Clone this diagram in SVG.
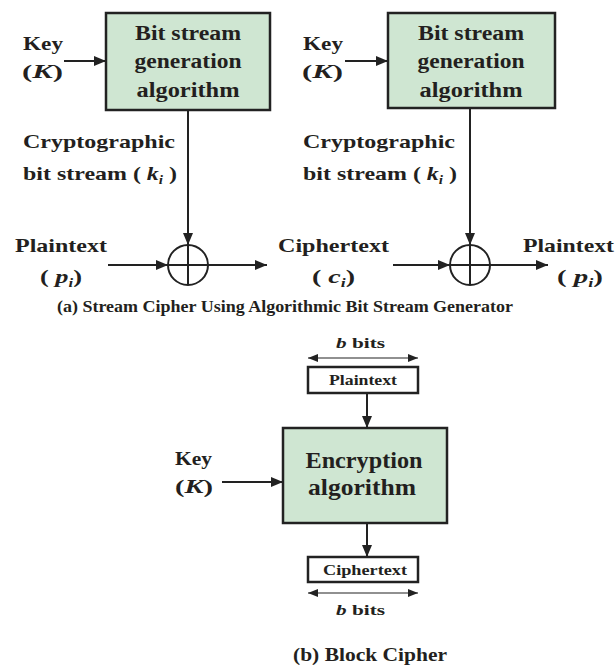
<svg xmlns="http://www.w3.org/2000/svg" width="615" height="671" viewBox="0 0 615 671">
<defs>
<marker id="ah" markerUnits="userSpaceOnUse" viewBox="0 0 12 10" refX="12" refY="5" markerWidth="12" markerHeight="10" orient="auto-start-reverse">
<path d="M0,0 L12,5 L0,10 z" fill="#222"/>
</marker>
<marker id="ahs" markerUnits="userSpaceOnUse" viewBox="0 0 10 8" refX="10" refY="4" markerWidth="10" markerHeight="8" orient="auto-start-reverse">
<path d="M0,0 L10,4 L0,8 z" fill="#222"/>
</marker>
</defs>
<style>
text{font-family:"Liberation Serif","Times New Roman",serif;font-weight:bold;fill:#231f20;}
.box{fill:#cfe6d2;stroke:#222;stroke-width:2.5;}
.wbox{fill:#fff;stroke:#222;stroke-width:2.5;}
.conn{stroke:#222;stroke-width:2;fill:none;marker-end:url(#ah);}
.dbl{stroke:#222;stroke-width:1.2;fill:none;marker-end:url(#ahs);marker-start:url(#ahs);}
.xor{fill:#fff;stroke:#222;stroke-width:2;}
.bt{font-size:20px;text-anchor:middle;}
.lb{font-size:19px;}
.sm{font-size:14px;}
.it{font-style:italic;}
.sub{font-size:12px;font-style:italic;}
</style>
<rect width="615" height="671" fill="#fff"/>

<g id="connectors">
<line class="conn" x1="64" y1="61" x2="106" y2="61"/>
<line class="conn" x1="188" y1="110" x2="188" y2="245"/>
<line class="conn" x1="108" y1="265" x2="168" y2="265"/>
<line class="conn" x1="208" y1="265" x2="267" y2="265"/>
<line class="conn" x1="345" y1="61" x2="388" y2="61"/>
<line class="conn" x1="470" y1="108" x2="470" y2="245"/>
<line class="conn" x1="393" y1="265" x2="450" y2="265"/>
<line class="conn" x1="490" y1="265" x2="548" y2="265"/>
<line class="conn" x1="367" y1="393" x2="367" y2="428"/>
<line class="conn" x1="222" y1="482" x2="283" y2="482"/>
<line class="conn" x1="367" y1="523" x2="367" y2="557"/>
<line class="dbl" x1="308" y1="358" x2="418" y2="358"/>
<line class="dbl" x1="308" y1="593" x2="418" y2="593"/>
</g>

<g id="gen1">
<rect class="box" x="106" y="13" width="164" height="97"/>
<text class="bt" x="188" y="40" textLength="106" lengthAdjust="spacingAndGlyphs">Bit stream</text>
<text class="bt" x="188" y="68" textLength="107" lengthAdjust="spacingAndGlyphs">generation</text>
<text class="bt" x="188" y="97" textLength="103" lengthAdjust="spacingAndGlyphs">algorithm</text>
</g>
<g id="key1">
<text class="lb" x="23" y="50" textLength="40" lengthAdjust="spacingAndGlyphs">Key</text>
<text class="lb" x="22" y="78" textLength="41" lengthAdjust="spacingAndGlyphs">(<tspan class="it">K</tspan>)</text>
</g>
<g id="ks1">
<text class="lb" x="23" y="148" textLength="152" lengthAdjust="spacingAndGlyphs">Cryptographic</text>
<text class="lb" x="23" y="180" textLength="154" lengthAdjust="spacingAndGlyphs">bit stream ( <tspan class="it">k</tspan><tspan class="sub" dy="4">i</tspan><tspan dy="-4"> )</tspan></text>
</g>
<g id="pt1">
<text class="lb" x="15" y="252" textLength="92" lengthAdjust="spacingAndGlyphs">Plaintext</text>
<text class="lb" x="40" y="283" textLength="42" lengthAdjust="spacingAndGlyphs">( <tspan class="it">p</tspan><tspan class="sub" dy="4">i</tspan><tspan dy="-4">)</tspan></text>
</g>
<g id="xor1">
<circle class="xor" cx="188" cy="265" r="20"/>
<line x1="168" y1="265" x2="208" y2="265" stroke="#222" stroke-width="2"/>
<line x1="188" y1="245" x2="188" y2="285" stroke="#222" stroke-width="2"/>
</g>
<g id="ct">
<text class="lb" x="278" y="252" textLength="111" lengthAdjust="spacingAndGlyphs">Ciphertext</text>
<text class="lb" x="312" y="283" textLength="43" lengthAdjust="spacingAndGlyphs">( <tspan class="it">c</tspan><tspan class="sub" dy="4">i</tspan><tspan dy="-4">)</tspan></text>
</g>

<g id="gen2">
<rect class="box" x="388" y="13" width="167" height="95"/>
<text class="bt" x="471" y="40" textLength="106" lengthAdjust="spacingAndGlyphs">Bit stream</text>
<text class="bt" x="471" y="68" textLength="107" lengthAdjust="spacingAndGlyphs">generation</text>
<text class="bt" x="471" y="97" textLength="103" lengthAdjust="spacingAndGlyphs">algorithm</text>
</g>
<g id="key2">
<text class="lb" x="303" y="50" textLength="40" lengthAdjust="spacingAndGlyphs">Key</text>
<text class="lb" x="302" y="78" textLength="41" lengthAdjust="spacingAndGlyphs">(<tspan class="it">K</tspan>)</text>
</g>
<g id="ks2">
<text class="lb" x="303" y="148" textLength="152" lengthAdjust="spacingAndGlyphs">Cryptographic</text>
<text class="lb" x="303" y="180" textLength="154" lengthAdjust="spacingAndGlyphs">bit stream ( <tspan class="it">k</tspan><tspan class="sub" dy="4">i</tspan><tspan dy="-4"> )</tspan></text>
</g>
<g id="xor2">
<circle class="xor" cx="470" cy="265" r="20"/>
<line x1="450" y1="265" x2="490" y2="265" stroke="#222" stroke-width="2"/>
<line x1="470" y1="245" x2="470" y2="285" stroke="#222" stroke-width="2"/>
</g>
<g id="pt2">
<text class="lb" x="523" y="252" textLength="91" lengthAdjust="spacingAndGlyphs">Plaintext</text>
<text class="lb" x="557" y="283" textLength="46" lengthAdjust="spacingAndGlyphs">( <tspan class="it">p</tspan><tspan class="sub" dy="4">i</tspan><tspan dy="-4">)</tspan></text>
</g>

<g id="captionA">
<text x="57" y="312" font-size="17" textLength="456" lengthAdjust="spacingAndGlyphs">(a) Stream Cipher Using Algorithmic Bit Stream Generator</text>
</g>

<g id="bbits1">
<text class="sm" x="336" y="348" textLength="49" lengthAdjust="spacingAndGlyphs"><tspan class="it">b</tspan> bits</text>
</g>
<g id="ptbox">
<rect class="wbox" x="308" y="367" width="110" height="26"/>
<text class="sm" x="363" y="385" text-anchor="middle" textLength="68" lengthAdjust="spacingAndGlyphs">Plaintext</text>
</g>
<g id="enc">
<rect class="box" x="283" y="428" width="164" height="95"/>
<text x="364" y="468" font-size="23" text-anchor="middle" textLength="117" lengthAdjust="spacingAndGlyphs">Encryption</text>
<text x="362" y="495" font-size="23" text-anchor="middle" textLength="108" lengthAdjust="spacingAndGlyphs">algorithm</text>
</g>
<g id="key3">
<text class="lb" x="175" y="465" textLength="37" lengthAdjust="spacingAndGlyphs">Key</text>
<text class="lb" x="175" y="493" textLength="38" lengthAdjust="spacingAndGlyphs">(<tspan class="it">K</tspan>)</text>
</g>
<g id="ctbox">
<rect class="wbox" x="308" y="557" width="110" height="25"/>
<text class="sm" x="365" y="575" text-anchor="middle" textLength="84" lengthAdjust="spacingAndGlyphs">Ciphertext</text>
</g>
<g id="bbits2">
<text class="sm" x="336" y="615" textLength="49" lengthAdjust="spacingAndGlyphs"><tspan class="it">b</tspan> bits</text>
</g>
<g id="captionB">
<text x="293" y="661" font-size="19" textLength="154" lengthAdjust="spacingAndGlyphs">(b) Block Cipher</text>
</g>
</svg>
